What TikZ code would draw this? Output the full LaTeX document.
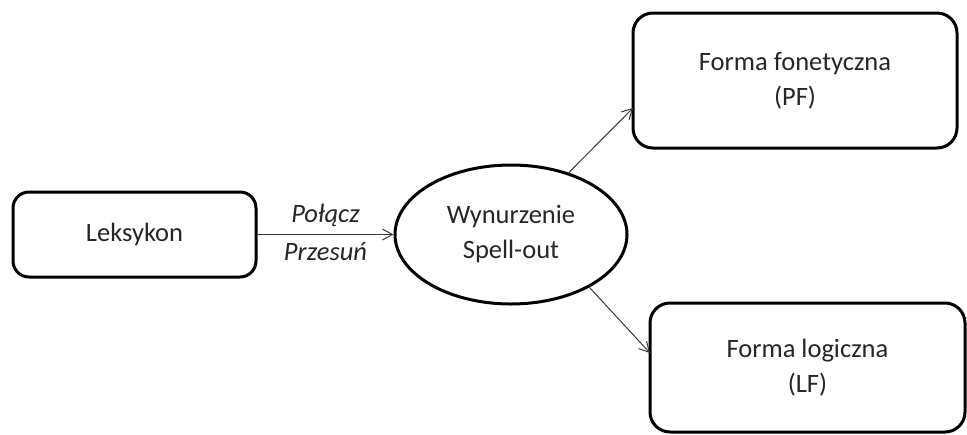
\documentclass[tikz,border=0pt]{standalone}
\usepackage{fontspec}
\setmainfont{Carlito}
\usetikzlibrary{arrows.meta,shapes.geometric}
\definecolor{txt}{HTML}{262626}
\definecolor{ln}{HTML}{3A3A3A}
\begin{document}
\begin{tikzpicture}[x=1pt,y=-1pt,
  every node/.style={font=\fontsize{26.5}{35}\selectfont, text=txt, align=center},
  rbox/.style={draw=black, line width=3pt, rounded corners=16pt, inner sep=0pt},
  conn/.style={draw=ln, line width=1pt, -{Straight Barb[length=10pt,width=11pt,line width=1pt]}},
  lbl/.style={font=\fontsize{26.5}{35}\selectfont\itshape}]
\useasboundingbox (0,0) rectangle (967,434);
\fill[white] (0,0) rectangle (967,434);
\node[rbox, minimum width=243pt, minimum height=85pt] (lex) at (134.5,234.5) {Leksykon};
\node[draw=black, line width=3pt, ellipse, minimum width=232pt, minimum height=139pt, inner sep=0pt] (wyn) at (511,234.5) {Wynurzenie\\Spell-out};
\node[rbox, rounded corners=20pt, minimum width=324pt, minimum height=135pt] (pf) at (795,80.5) {Forma fonetyczna\\(PF)};
\node[rbox, rounded corners=20pt, minimum width=315pt, minimum height=129pt] (lf) at (807.5,367.5) {Forma logiczna\\(LF)};
\draw[conn] (lex.east) -- (wyn.west) node[lbl, midway, above=4pt] {Połącz} node[lbl, midway, below=4pt] {Przesuń};
\coordinate (pfin) at (633,108);
\coordinate (lfin) at (650,353);
\draw[conn] (wyn.{atan2(62,57)}) -- (pfin);
\draw[conn] (wyn.{atan2(-53,76)}) -- (lfin);
\end{tikzpicture}
\end{document}
